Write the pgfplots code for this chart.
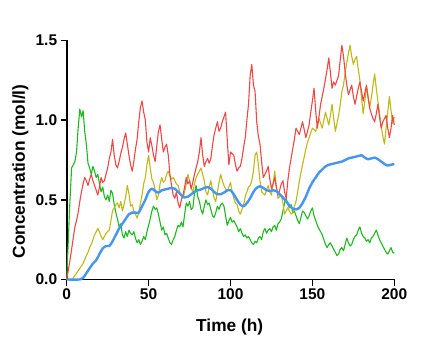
\documentclass[border=0pt]{standalone}
\usepackage{fontspec}
\setmainfont{Liberation Sans}
\usepackage{pgfplots}
\pgfplotsset{compat=1.18}
\definecolor{redc}{RGB}{240,70,70}
\definecolor{yelc}{RGB}{190,185,20}
\definecolor{grnc}{RGB}{30,185,30}
\definecolor{bluc}{RGB}{70,150,240}
\begin{document}
\begin{tikzpicture}
\path[use as bounding box] (0,0) rectangle (430pt,358pt);
\begin{axis}[
  at={(66.7pt,78.5pt)}, anchor=south west,
  scale only axis, width=327.6pt, height=239pt,
  xmin=0, xmax=200, ymin=0, ymax=1.5,
  axis x line*=bottom, axis y line*=left,
  axis line style={line width=1.8pt,-},
  tick style={line width=1.5pt,black},
  tick align=outside, major tick length=6pt,
  xtick={0,50,100,150,200}, ytick={0,0.5,1,1.5},
  yticklabel style={/pgf/number format/.cd,fixed,fixed zerofill,precision=1},
  /pgf/number format/assume math mode=true,
  ticklabel style={font=\fontsize{15.5}{18}\selectfont\bfseries},
  xlabel={Time (h)}, ylabel={Concentration (mol/l)},
  xlabel style={at={(axis description cs:0.4976,-0.199)},anchor=center,font=\fontsize{17.3}{20}\selectfont\bfseries},
  ylabel style={at={(axis description cs:-0.141,0.452)},anchor=center,font=\fontsize{17.3}{20}\selectfont\bfseries},
  clip=false,
]
% green
\addplot[grnc, line width=1.1pt, line join=round] coordinates {
(0,0) (1,0.25) (2,0.5) (3,0.70) (4,0.72) (5,0.74) (6,0.80) (7,0.95) (8,1.07) (9,1.02) (10,1.06) (11,0.93) (12,0.85) (13,0.73) (14,0.70) (15,0.66) (16,0.71) (17,0.68) (18,0.64) (19,0.66) (20,0.60) (21,0.55) (22,0.58) (23,0.52) (24,0.50) (25,0.53) (26,0.49) (27,0.56) (28,0.54) (29,0.47) (30,0.42) (31,0.38) (32,0.33) (33,0.35) (34,0.28) (35,0.26) (36,0.30) (37,0.27) (38,0.31) (39,0.29) (40,0.28) (41,0.30) (42,0.26) (43,0.23) (44,0.25) (45,0.22) (46,0.24) (47,0.27) (48,0.25) (49,0.30) (50,0.34) (51,0.38) (52,0.43) (53,0.46) (54,0.44) (55,0.45) (56,0.41) (57,0.36) (58,0.31) (59,0.33) (60,0.28) (61,0.29) (62,0.26) (63,0.23) (64,0.22) (65,0.25) (66,0.27) (67,0.31) (68,0.34) (69,0.33) (70,0.36) (71,0.33) (72,0.41) (73,0.48) (74,0.46) (75,0.49) (76,0.44) (77,0.45) (78,0.54) (79,0.59) (80,0.52) (81,0.49) (82,0.44) (83,0.41) (84,0.46) (85,0.50) (86,0.47) (87,0.48) (88,0.44) (89,0.40) (90,0.39) (91,0.42) (92,0.46) (93,0.44) (94,0.47) (95,0.48) (96,0.46) (97,0.40) (98,0.34) (99,0.37) (100,0.39) (101,0.36) (102,0.37) (103,0.35) (104,0.33) (105,0.30) (106,0.32) (107,0.29) (108,0.27) (109,0.28) (110,0.26) (111,0.27) (112,0.25) (113,0.23) (114,0.22) (115,0.24) (116,0.23) (117,0.26) (118,0.27) (119,0.25) (120,0.30) (121,0.32) (122,0.29) (123,0.31) (124,0.32) (125,0.30) (126,0.33) (127,0.34) (128,0.31) (129,0.35) (130,0.36) (131,0.38) (132,0.43) (133,0.48) (134,0.51) (135,0.47) (136,0.45) (137,0.47) (138,0.42) (139,0.43) (140,0.40) (141,0.37) (142,0.35) (143,0.39) (144,0.43) (145,0.42) (146,0.40) (147,0.38) (148,0.40) (149,0.43) (150,0.45) (151,0.40) (152,0.37) (153,0.34) (154,0.32) (155,0.30) (156,0.28) (157,0.25) (158,0.22) (159,0.20) (160,0.22) (161,0.23) (162,0.21) (163,0.19) (164,0.17) (165,0.15) (166,0.16) (167,0.19) (168,0.20) (169,0.18) (170,0.22) (171,0.26) (172,0.23) (173,0.21) (174,0.22) (175,0.25) (176,0.27) (177,0.28) (178,0.31) (179,0.33) (180,0.29) (181,0.27) (182,0.26) (183,0.24) (184,0.25) (185,0.23) (186,0.26) (187,0.27) (188,0.29) (189,0.31) (190,0.28) (191,0.25) (192,0.23) (193,0.21) (194,0.19) (195,0.17) (196,0.16) (197,0.18) (198,0.20) (199,0.17) (200,0.165)
};
% yellow
\addplot[yelc, line width=1.1pt, line join=round] coordinates {
(0,0) (3,0) (4,0.01) (6,0.04) (8,0.07) (10,0.10) (12,0.15) (13,0.17) (14,0.20) (15,0.22) (16,0.25) (17,0.28) (18,0.30) (19,0.32) (20,0.30) (21,0.27) (22,0.25) (23,0.27) (24,0.29) (25,0.30) (26,0.31) (27,0.37) (28,0.43) (29,0.45) (30,0.47) (31,0.48) (32,0.45) (33,0.49) (34,0.43) (35,0.47) (36,0.52) (37,0.59) (38,0.54) (39,0.46) (40,0.47) (41,0.43) (42,0.41) (43,0.385) (44,0.42) (45,0.48) (46,0.53) (47,0.60) (48,0.64) (49,0.72) (50,0.78) (51,0.70) (52,0.63) (53,0.61) (54,0.56) (55,0.50) (56,0.53) (57,0.60) (58,0.64) (59,0.61) (60,0.62) (61,0.66) (62,0.68) (63,0.65) (64,0.63) (65,0.64) (66,0.62) (67,0.60) (68,0.59) (69,0.55) (70,0.52) (71,0.51) (72,0.55) (73,0.60) (74,0.66) (75,0.62) (76,0.57) (77,0.55) (78,0.60) (79,0.64) (80,0.66) (81,0.68) (82,0.70) (83,0.66) (84,0.62) (85,0.55) (86,0.53) (87,0.58) (88,0.62) (89,0.56) (90,0.51) (91,0.49) (92,0.55) (93,0.61) (94,0.66) (95,0.62) (96,0.59) (97,0.57) (98,0.55) (99,0.58) (100,0.61) (101,0.55) (102,0.51) (103,0.48) (104,0.47) (105,0.43) (106,0.41) (107,0.44) (108,0.47) (109,0.52) (110,0.55) (111,0.58) (112,0.59) (113,0.62) (114,0.68) (115,0.78) (116,0.80) (117,0.72) (118,0.62) (119,0.55) (120,0.54) (121,0.53) (122,0.56) (123,0.59) (124,0.55) (125,0.53) (126,0.60) (127,0.68) (128,0.58) (129,0.51) (130,0.52) (131,0.53) (132,0.48) (133,0.41) (134,0.43) (135,0.45) (136,0.43) (137,0.41) (138,0.42) (139,0.46) (140,0.49) (141,0.55) (142,0.615) (143,0.67) (144,0.72) (145,0.77) (146,0.82) (147,0.86) (148,0.89) (149,0.92) (150,0.95) (151,0.94) (152,0.93) (153,0.97) (154,1.01) (155,0.98) (156,0.95) (157,1.00) (158,1.05) (159,1.01) (160,0.97) (161,1.03) (162,1.10) (163,1.01) (164,0.93) (165,0.98) (166,1.03) (167,1.10) (168,1.18) (169,1.22) (170,1.30) (171,1.36) (172,1.42) (173,1.47) (174,1.40) (175,1.35) (176,1.38) (177,1.40) (178,1.32) (179,1.25) (180,1.14) (181,1.04) (182,1.12) (183,1.21) (184,1.15) (185,1.08) (186,1.14) (187,1.22) (188,1.29) (189,1.20) (190,1.12) (191,1.04) (192,0.96) (193,0.90) (194,0.85) (195,0.95) (196,1.05) (197,1.15) (198,1.06) (199,0.98) (200,1.02)
};
% red
\addplot[redc, line width=1.1pt, line join=round] coordinates {
(0,0) (2,0.12) (4,0.26) (5,0.33) (6,0.37) (7,0.42) (8,0.49) (9,0.55) (10,0.60) (11,0.64) (12,0.62) (13,0.59) (14,0.63) (15,0.66) (16,0.62) (17,0.59) (18,0.56) (19,0.53) (20,0.58) (21,0.64) (22,0.61) (23,0.62) (24,0.66) (25,0.70) (26,0.76) (27,0.80) (28,0.88) (29,0.78) (30,0.72) (31,0.70) (32,0.74) (33,0.79) (34,0.83) (35,0.88) (36,0.92) (37,0.85) (38,0.78) (39,0.72) (40,0.68) (41,0.74) (42,0.82) (43,0.88) (44,0.99) (45,1.08) (46,1.12) (47,1.05) (48,1.00) (49,0.86) (50,0.80) (51,0.89) (52,0.84) (53,0.78) (54,0.74) (55,0.84) (56,0.93) (57,0.97) (58,0.88) (59,0.80) (60,0.83) (61,0.85) (62,0.78) (63,0.66) (64,0.59) (65,0.53) (66,0.51) (67,0.55) (68,0.48) (69,0.45) (70,0.50) (71,0.53) (72,0.58) (73,0.64) (74,0.60) (75,0.62) (76,0.57) (77,0.61) (78,0.66) (79,0.70) (80,0.74) (81,0.80) (82,0.89) (83,0.78) (84,0.71) (85,0.74) (86,0.76) (87,0.73) (88,0.76) (89,0.84) (90,0.91) (91,0.95) (92,0.99) (93,0.93) (94,0.95) (95,0.99) (96,1.02) (97,1.05) (98,0.88) (99,0.72) (100,0.80) (101,0.79) (102,0.78) (103,0.72) (104,0.68) (105,0.70) (106,0.71) (107,0.76) (108,0.83) (109,0.89) (110,1.00) (111,1.10) (112,1.28) (113,1.35) (114,1.22) (115,1.18) (116,0.99) (117,0.90) (118,0.85) (119,0.74) (120,0.64) (121,0.66) (122,0.68) (123,0.71) (124,0.63) (125,0.57) (126,0.60) (127,0.64) (128,0.58) (129,0.53) (130,0.56) (131,0.60) (132,0.62) (133,0.55) (134,0.51) (135,0.62) (136,0.70) (137,0.76) (138,0.82) (139,0.88) (140,0.95) (141,0.93) (142,0.91) (143,0.95) (144,0.99) (145,0.94) (146,0.89) (147,0.93) (148,0.97) (149,1.05) (150,1.12) (151,1.20) (152,1.06) (153,0.95) (154,1.02) (155,1.10) (156,1.15) (157,1.20) (158,1.26) (159,1.32) (160,1.39) (161,1.30) (162,1.20) (163,1.24) (164,1.22) (165,1.25) (166,1.28) (167,1.38) (168,1.47) (169,1.40) (170,1.30) (171,1.22) (172,1.16) (173,1.19) (174,1.22) (175,1.15) (176,1.10) (177,1.15) (178,1.20) (179,1.24) (180,1.18) (181,1.12) (182,1.17) (183,1.22) (184,1.14) (185,1.075) (186,1.04) (187,1.01) (188,0.99) (189,1.04) (190,1.10) (191,1.02) (192,0.95) (193,0.99) (194,1.01) (195,1.03) (196,0.95) (197,0.89) (198,0.95) (199,1.03) (200,0.97)
};
% blue
\addplot[bluc, line width=2.4pt, line join=round, smooth] coordinates {
(0,0) (8,0) (10,0.01) (12,0.04) (14,0.07) (16,0.10) (18,0.12) (20,0.16) (22,0.195) (24,0.21) (26,0.21) (28,0.24) (30,0.28) (32,0.32) (34,0.35) (36,0.38) (38,0.41) (40,0.42) (42,0.42) (44,0.42) (46,0.46) (48,0.50) (50,0.55) (52,0.57) (54,0.555) (56,0.545) (58,0.56) (60,0.565) (62,0.57) (64,0.575) (66,0.57) (68,0.55) (70,0.53) (72,0.515) (74,0.52) (76,0.535) (78,0.55) (80,0.56) (82,0.565) (84,0.575) (86,0.58) (88,0.57) (90,0.55) (92,0.535) (94,0.535) (96,0.545) (98,0.56) (100,0.56) (102,0.535) (104,0.50) (106,0.47) (108,0.46) (110,0.48) (112,0.51) (114,0.55) (116,0.575) (118,0.585) (120,0.575) (122,0.56) (124,0.555) (126,0.56) (128,0.555) (130,0.535) (132,0.515) (134,0.49) (136,0.465) (138,0.445) (140,0.44) (142,0.45) (144,0.48) (146,0.52) (148,0.57) (150,0.61) (152,0.64) (154,0.67) (156,0.69) (158,0.71) (160,0.72) (162,0.725) (164,0.73) (166,0.735) (168,0.74) (170,0.75) (172,0.76) (174,0.765) (176,0.77) (178,0.775) (180,0.78) (182,0.765) (184,0.755) (186,0.76) (188,0.765) (190,0.755) (192,0.74) (194,0.725) (196,0.715) (198,0.72) (200,0.725)
};
\end{axis}
\end{tikzpicture}
\end{document}
